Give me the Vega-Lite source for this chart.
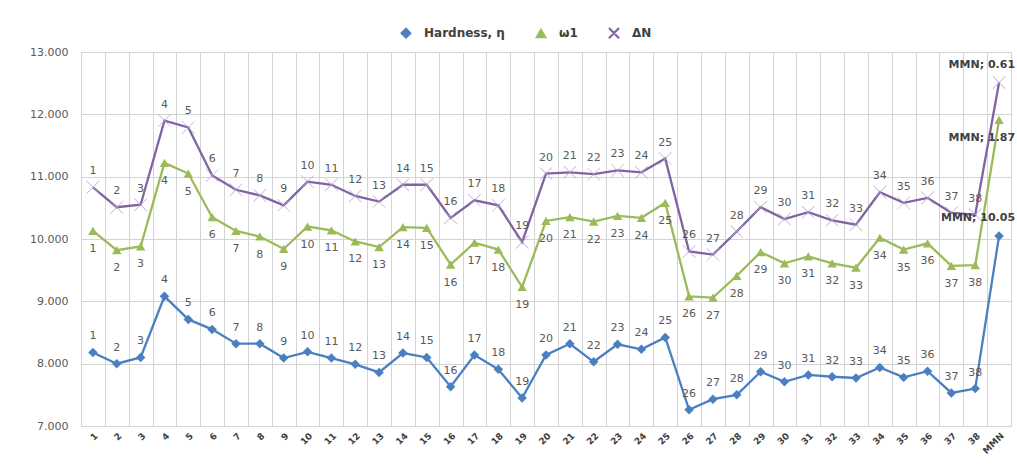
{
  "$schema": "https://vega.github.io/schema/vega-lite/v6.json",
  "width": 930,
  "height": 374,
  "autosize": {"type": "none"},
  "padding": {"left": 81, "top": 52, "right": 6, "bottom": 47},
  "background": "white",
  "config": {
    "view": {"stroke": "#bfbfbf", "strokeWidth": 1},
    "font": "DejaVu Sans",
    "legend": {"orient": "none", "legendX": 319, "legendY": -25, "direction": "horizontal"}
  },
  "data": {"values": [
    {"c":"1","s":"Hardness, η","v":8.18,"t":"1"},
    {"c":"2","s":"Hardness, η","v":8.00,"t":"2"},
    {"c":"3","s":"Hardness, η","v":8.10,"t":"3"},
    {"c":"4","s":"Hardness, η","v":9.08,"t":"4"},
    {"c":"5","s":"Hardness, η","v":8.71,"t":"5"},
    {"c":"6","s":"Hardness, η","v":8.55,"t":"6"},
    {"c":"7","s":"Hardness, η","v":8.32,"t":"7"},
    {"c":"8","s":"Hardness, η","v":8.32,"t":"8"},
    {"c":"9","s":"Hardness, η","v":8.09,"t":"9"},
    {"c":"10","s":"Hardness, η","v":8.19,"t":"10"},
    {"c":"11","s":"Hardness, η","v":8.09,"t":"11"},
    {"c":"12","s":"Hardness, η","v":7.99,"t":"12"},
    {"c":"13","s":"Hardness, η","v":7.86,"t":"13"},
    {"c":"14","s":"Hardness, η","v":8.17,"t":"14"},
    {"c":"15","s":"Hardness, η","v":8.10,"t":"15"},
    {"c":"16","s":"Hardness, η","v":7.63,"t":"16"},
    {"c":"17","s":"Hardness, η","v":8.14,"t":"17"},
    {"c":"18","s":"Hardness, η","v":7.91,"t":"18"},
    {"c":"19","s":"Hardness, η","v":7.45,"t":"19"},
    {"c":"20","s":"Hardness, η","v":8.14,"t":"20"},
    {"c":"21","s":"Hardness, η","v":8.32,"t":"21"},
    {"c":"22","s":"Hardness, η","v":8.03,"t":"22"},
    {"c":"23","s":"Hardness, η","v":8.31,"t":"23"},
    {"c":"24","s":"Hardness, η","v":8.23,"t":"24"},
    {"c":"25","s":"Hardness, η","v":8.42,"t":"25"},
    {"c":"26","s":"Hardness, η","v":7.26,"t":"26"},
    {"c":"27","s":"Hardness, η","v":7.43,"t":"27"},
    {"c":"28","s":"Hardness, η","v":7.50,"t":"28"},
    {"c":"29","s":"Hardness, η","v":7.87,"t":"29"},
    {"c":"30","s":"Hardness, η","v":7.71,"t":"30"},
    {"c":"31","s":"Hardness, η","v":7.82,"t":"31"},
    {"c":"32","s":"Hardness, η","v":7.79,"t":"32"},
    {"c":"33","s":"Hardness, η","v":7.77,"t":"33"},
    {"c":"34","s":"Hardness, η","v":7.94,"t":"34"},
    {"c":"35","s":"Hardness, η","v":7.78,"t":"35"},
    {"c":"36","s":"Hardness, η","v":7.88,"t":"36"},
    {"c":"37","s":"Hardness, η","v":7.53,"t":"37"},
    {"c":"38","s":"Hardness, η","v":7.60,"t":"38"},
    {"c":"MMN","s":"Hardness, η","v":10.05,"t":"MMN; 10.05"},
    {"c":"1","s":"ω1","v":10.13,"t":"1"},
    {"c":"2","s":"ω1","v":9.82,"t":"2"},
    {"c":"3","s":"ω1","v":9.88,"t":"3"},
    {"c":"4","s":"ω1","v":11.22,"t":"4"},
    {"c":"5","s":"ω1","v":11.05,"t":"5"},
    {"c":"6","s":"ω1","v":10.35,"t":"6"},
    {"c":"7","s":"ω1","v":10.13,"t":"7"},
    {"c":"8","s":"ω1","v":10.04,"t":"8"},
    {"c":"9","s":"ω1","v":9.84,"t":"9"},
    {"c":"10","s":"ω1","v":10.20,"t":"10"},
    {"c":"11","s":"ω1","v":10.14,"t":"11"},
    {"c":"12","s":"ω1","v":9.96,"t":"12"},
    {"c":"13","s":"ω1","v":9.87,"t":"13"},
    {"c":"14","s":"ω1","v":10.19,"t":"14"},
    {"c":"15","s":"ω1","v":10.18,"t":"15"},
    {"c":"16","s":"ω1","v":9.59,"t":"16"},
    {"c":"17","s":"ω1","v":9.94,"t":"17"},
    {"c":"18","s":"ω1","v":9.83,"t":"18"},
    {"c":"19","s":"ω1","v":9.23,"t":"19"},
    {"c":"20","s":"ω1","v":10.29,"t":"20"},
    {"c":"21","s":"ω1","v":10.35,"t":"21"},
    {"c":"22","s":"ω1","v":10.28,"t":"22"},
    {"c":"23","s":"ω1","v":10.37,"t":"23"},
    {"c":"24","s":"ω1","v":10.34,"t":"24"},
    {"c":"25","s":"ω1","v":10.58,"t":"25"},
    {"c":"26","s":"ω1","v":9.08,"t":"26"},
    {"c":"27","s":"ω1","v":9.06,"t":"27"},
    {"c":"28","s":"ω1","v":9.41,"t":"28"},
    {"c":"29","s":"ω1","v":9.79,"t":"29"},
    {"c":"30","s":"ω1","v":9.61,"t":"30"},
    {"c":"31","s":"ω1","v":9.72,"t":"31"},
    {"c":"32","s":"ω1","v":9.61,"t":"32"},
    {"c":"33","s":"ω1","v":9.54,"t":"33"},
    {"c":"34","s":"ω1","v":10.02,"t":"34"},
    {"c":"35","s":"ω1","v":9.83,"t":"35"},
    {"c":"36","s":"ω1","v":9.93,"t":"36"},
    {"c":"37","s":"ω1","v":9.57,"t":"37"},
    {"c":"38","s":"ω1","v":9.58,"t":"38"},
    {"c":"MMN","s":"ω1","v":11.91,"t":"MMN; 1.87"},
    {"c":"1","s":"ΔN","v":10.83,"t":"1"},
    {"c":"2","s":"ΔN","v":10.51,"t":"2"},
    {"c":"3","s":"ΔN","v":10.55,"t":"3"},
    {"c":"4","s":"ΔN","v":11.90,"t":"4"},
    {"c":"5","s":"ΔN","v":11.79,"t":"5"},
    {"c":"6","s":"ΔN","v":11.02,"t":"6"},
    {"c":"7","s":"ΔN","v":10.79,"t":"7"},
    {"c":"8","s":"ΔN","v":10.70,"t":"8"},
    {"c":"9","s":"ΔN","v":10.54,"t":"9"},
    {"c":"10","s":"ΔN","v":10.92,"t":"10"},
    {"c":"11","s":"ΔN","v":10.87,"t":"11"},
    {"c":"12","s":"ΔN","v":10.69,"t":"12"},
    {"c":"13","s":"ΔN","v":10.60,"t":"13"},
    {"c":"14","s":"ΔN","v":10.87,"t":"14"},
    {"c":"15","s":"ΔN","v":10.87,"t":"15"},
    {"c":"16","s":"ΔN","v":10.34,"t":"16"},
    {"c":"17","s":"ΔN","v":10.62,"t":"17"},
    {"c":"18","s":"ΔN","v":10.54,"t":"18"},
    {"c":"19","s":"ΔN","v":9.95,"t":"19"},
    {"c":"20","s":"ΔN","v":11.05,"t":"20"},
    {"c":"21","s":"ΔN","v":11.07,"t":"21"},
    {"c":"22","s":"ΔN","v":11.04,"t":"22"},
    {"c":"23","s":"ΔN","v":11.10,"t":"23"},
    {"c":"24","s":"ΔN","v":11.07,"t":"24"},
    {"c":"25","s":"ΔN","v":11.29,"t":"25"},
    {"c":"26","s":"ΔN","v":9.80,"t":"26"},
    {"c":"27","s":"ΔN","v":9.75,"t":"27"},
    {"c":"28","s":"ΔN","v":10.12,"t":"28"},
    {"c":"29","s":"ΔN","v":10.51,"t":"29"},
    {"c":"30","s":"ΔN","v":10.32,"t":"30"},
    {"c":"31","s":"ΔN","v":10.43,"t":"31"},
    {"c":"32","s":"ΔN","v":10.30,"t":"32"},
    {"c":"33","s":"ΔN","v":10.23,"t":"33"},
    {"c":"34","s":"ΔN","v":10.75,"t":"34"},
    {"c":"35","s":"ΔN","v":10.58,"t":"35"},
    {"c":"36","s":"ΔN","v":10.66,"t":"36"},
    {"c":"37","s":"ΔN","v":10.42,"t":"37"},
    {"c":"38","s":"ΔN","v":10.39,"t":"38"},
    {"c":"MMN","s":"ΔN","v":12.51,"t":"MMN; 0.61"}
  ]},
  "encoding": {
    "x": {
      "field": "c", "type": "ordinal", "sort": null, "bandPosition": 0.5,
      "scale": {"type": "band", "paddingInner": 0, "paddingOuter": 0},
      "axis": {
        "title": null, "labelAngle": -45, "labelFontSize": 9, "labelFontWeight": "bold",
        "labelColor": "#404040", "labelPadding": 5, "ticks": false, "domain": false,
        "grid": true, "tickBand": "extent", "gridColor": "#d4d4d4", "labelBound": false
      }
    },
    "y": {
      "field": "v", "type": "quantitative",
      "scale": {"domain": [7, 13], "nice": false, "zero": false},
      "axis": {
        "title": null, "values": [7, 8, 9, 10, 11, 12, 13], "format": ".3f",
        "labelFontSize": 11, "labelColor": "#595959", "labelPadding": 13,
        "ticks": false, "domain": false, "gridColor": "#d4d4d4"
      }
    },
    "color": {"field": "s", "type": "nominal", "sort": null,
      "scale": {"domain": ["Hardness, η", "ω1", "ΔN"], "range": ["#4a7fc1", "#9bbb59", "#8064a2"]},
      "legend": {
        "title": null, "labelFontSize": 12, "labelFontWeight": "bold", "labelOffset": 12,
        "labelColor": "#404040", "symbolSize": 90, "columnPadding": 28, "symbolOpacity": 1
      }}
  },
  "layer": [
    {
      "mark": {"type": "line", "strokeWidth": 2.3}
    },
    {
      "transform": [{"filter": "datum.s != 'ΔN'"}],
      "mark": {"type": "point", "filled": true, "opacity": 1, "size": 90},
      "encoding": {
        "shape": {"field": "s", "type": "nominal", "sort": null,
          "scale": {"domain": ["Hardness, η", "ω1", "ΔN"],
            "range": ["diamond", "triangle-up", "M-1,-0.9L-0.9,-1L1,0.9L0.9,1Z M1,-0.9L0.9,-1L-1,0.9L-0.9,1Z"]},
          "legend": {
            "title": null, "labelFontSize": 12, "labelFontWeight": "bold", "labelOffset": 12,
            "labelColor": "#404040", "symbolSize": 90, "columnPadding": 28, "symbolOpacity": 1
          }}
      }
    },
    {
      "transform": [{"filter": "datum.s == 'ΔN'"}],
      "mark": {"type": "point", "filled": true, "opacity": 1, "size": 170,
        "shape": "M-1,-0.93L-0.93,-1L1,0.93L0.93,1Z M1,-0.93L0.93,-1L-1,0.93L-0.93,1Z"},
      "encoding": {"color": {"value": "#b6a6d2"}}
    },
    {
      "transform": [{"filter": "datum.c != 'MMN' && datum.s != 'ω1'"}],
      "mark": {"type": "text", "dy": -16, "fontSize": 11},
      "encoding": {"text": {"field": "t"}, "color": {"value": "#595959"}}
    },
    {
      "transform": [{"filter": "datum.c != 'MMN' && datum.s == 'ω1'"}],
      "mark": {"type": "text", "dy": 18, "fontSize": 11},
      "encoding": {"text": {"field": "t"}, "color": {"value": "#595959"}}
    },
    {
      "transform": [{"filter": "datum.c == 'MMN' && datum.s != 'ω1'"}],
      "mark": {"type": "text", "dy": -18, "dx": 16, "align": "right", "fontSize": 11, "fontWeight": "bold"},
      "encoding": {"text": {"field": "t"}, "color": {"value": "#404040"}}
    },
    {
      "transform": [{"filter": "datum.c == 'MMN' && datum.s == 'ω1'"}],
      "mark": {"type": "text", "dy": 18, "dx": 16, "align": "right", "fontSize": 11, "fontWeight": "bold"},
      "encoding": {"text": {"field": "t"}, "color": {"value": "#404040"}}
    }
  ]
}
